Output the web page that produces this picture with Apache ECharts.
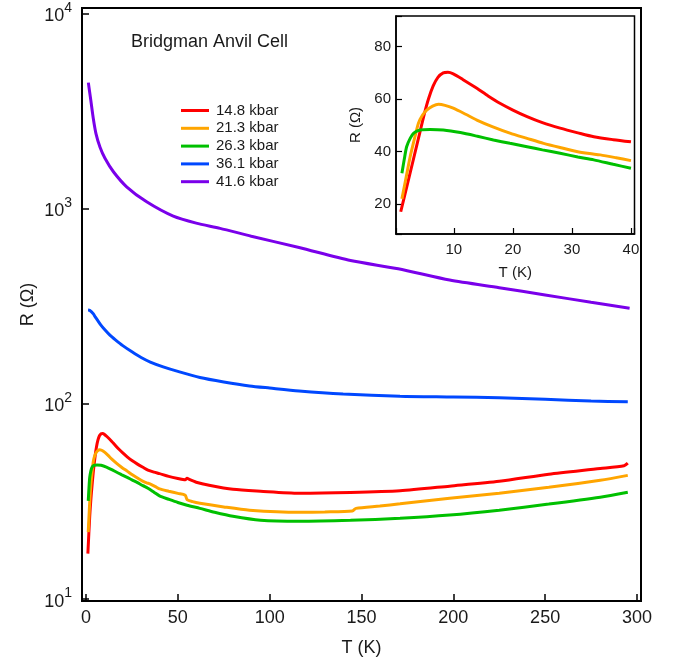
<!DOCTYPE html>
<html><head><meta charset="utf-8">
<script src="https://cdn.jsdelivr.net/npm/echarts@6/dist/echarts.min.js"></script>
<style>html,body{margin:0;padding:0;background:#fff}#c{width:673px;height:664px}</style>
</head><body><div id="c"></div>
<script>
// ---- data ----
const seriesNames = ['14.8 kbar', '21.3 kbar', '26.3 kbar', '36.1 kbar', '41.6 kbar'];
const titleText = 'Bridgman Anvil Cell';
const mainXTicks = [0, 50, 100, 150, 200, 250, 300];
const mainYTickExps = [1, 2, 3, 4];
const insetXTicks = [10, 20, 30, 40];
const insetYTicks = [20, 40, 60, 80];

// [T (K), R (Ohm)]
const r148 = [[1.0,17],[2.0,26.3],[3.0,35.6],[4.0,45],[5.0,54.3],[5.7,60],[6.5,65],[7.3,68.3],[8.2,70],[9.0,70.2],[9.9,69.6],[11.5,67.5],[13.9,64.1],[15.8,61.2],[17.8,58.4],[20,55.8],[22.4,53.3],[25,51],[28,48.9],[31,47.1],[33.7,45.6],[37,44.5],[40,43.7],[45,42.3],[50,41.3],[54,40.7],[55,41.4],[56,40.9],[60,39.5],[67,38.1],[80,36.3],[95,35.5],[116,34.7],[144,35],[171,35.7],[198,37.7],[225,39.9],[252,43.4],[280,46.4],[293,48],[295,49.5]];
const r213 = [[1.2,21.9],[1.9,30],[2.6,38],[3.3,44.6],[4.0,50.8],[4.7,53.9],[5.4,55.8],[6.4,57.3],[7.4,58],[8.5,57.6],[9.9,56.5],[12,54.2],[13.9,52],[16.5,49.5],[19.5,47],[22.4,45],[25.2,43.1],[28,41.5],[30.8,40],[33,39.2],[34.8,38.7],[37.5,37.6],[40,36.5],[45,35.5],[50,34.6],[54,33.9],[55,32.2],[58,31.4],[62,30.8],[75,29.5],[89,28.4],[116,27.7],[130,27.8],[145,28.1],[147,29.0],[160,29.8],[171,30.6],[198,32.7],[225,34.7],[252,37.2],[280,40.4],[295,42.8]];
const r263 = [[1.2,31.7],[1.6,37],[2.0,41.8],[2.6,45],[3.2,47],[4.3,48.2],[6,48.4],[8.2,48.2],[11.1,47.2],[14,45.8],[16.7,44.4],[19.5,43.1],[22.4,41.8],[25,40.6],[28,39.3],[31,37.9],[33.7,36.8],[37,35.1],[40,33.6],[45,32.3],[50,31.1],[55,30.1],[62,29],[70,27.7],[80,26.4],[95,25.2],[116,24.9],[144,25.2],[171,25.8],[198,26.8],[225,28.4],[252,30.5],[280,33.1],[295,35.1]];
const r361 = [[1.1,301],[2,300],[3,295],[4,288],[5,278],[6.5,265],[8,253],[10,240],[13,224],[16,212],[20,198],[25,184],[30,172],[35,163],[42,154],[50,146],[62,136],[75,129],[89,123],[100,120],[116,116],[140,112],[171,109],[200,108],[225,107],[250,105],[275,103],[295,102]];
const r416 = [[1.25,4410],[2.56,3600],[3.97,2880],[5.44,2410],[7.62,2055],[10.3,1805],[14.9,1540],[22.1,1290],[33,1080],[47.5,912],[60,840],[73,790],[90,720],[116,630],[144,540],[170,490],[198,429],[225,392],[250,360],[275,330],[296,308]];

const colors = ['#ff0000', '#ffa500', '#00c000', '#0048ff', '#7a00ea'];
const mainData = [r148, r213, r263, r361, r416];
const insetData = [r148, r213, r263];

// ---- chart ----
const FONT = 'Liberation Sans, Arial, Helvetica, sans-serif';
const TXT = '#1a1a1a';
const chart = echarts.init(document.getElementById('c'), null, {renderer: 'canvas'});

function near(v, arr) { return arr.some(t => Math.abs(t - v) < 1e-6); }

const series = [];
mainData.forEach((d, i) => series.push({
  name: seriesNames[i], type: 'line', xAxisIndex: 0, yAxisIndex: 0,
  data: d, showSymbol: false, symbol: 'none', smooth: 0.25,
  lineStyle: {color: colors[i], width: 3}, itemStyle: {color: colors[i]}, z: 3
}));
insetData.forEach((d, i) => series.push({
  name: seriesNames[i], type: 'line', xAxisIndex: 1, yAxisIndex: 1,
  data: d.filter(p => p[0] <= 41), showSymbol: false, symbol: 'none', smooth: 0.25,
  lineStyle: {color: colors[i], width: 3}, itemStyle: {color: colors[i]}, z: 10
}));

const option = {
  animation: false,
  backgroundColor: '#fff',
  textStyle: {fontFamily: FONT, color: TXT},
  title: {text: titleText, left: 131, top: 33, padding: 0,
    textStyle: {fontSize: 18, fontWeight: 'normal', color: TXT, fontFamily: FONT}},
  legend: {
    data: seriesNames, orient: 'vertical', left: 181, top: 103, padding: 0,
    icon: 'rect', itemWidth: 28, itemHeight: 3, itemGap: 2.8,
    textStyle: {fontSize: 15, color: TXT, fontFamily: FONT, lineHeight: 15, padding: [0, 0, 0, 2]},
    selectedMode: false
  },
  grid: [
    {left: 82, right: 32, top: 8, bottom: 63, show: true, borderColor: '#000', borderWidth: 2, backgroundColor: 'transparent', containLabel: false},
    {left: 396, right: 38.5, top: 16, bottom: 430, show: true, borderColor: '#000', borderWidth: 1.5, backgroundColor: '#fff', containLabel: false, z: 5}
  ],
  xAxis: [
    {type: 'value', gridIndex: 0, min: -2.2, max: 302.2,
     name: 'T (K)', nameLocation: 'middle', nameGap: 38, nameMoveOverlap: false,
     nameTextStyle: {fontSize: 18, color: TXT, fontFamily: FONT},
     axisLine: {show: true, onZero: false, lineStyle: {color: '#000', width: 2}},
     axisTick: {show: true, inside: true, length: 7, lineStyle: {color: '#000', width: 1.5}},
     axisLabel: {fontSize: 18, color: TXT, margin: 8, fontFamily: FONT, showMinLabel: true, showMaxLabel: true,
       formatter: v => near(v, mainXTicks) ? String(Math.round(v)) : ''},
     splitLine: {show: false}},
    {type: 'value', gridIndex: 1, min: 0.2, max: 40.6,
     name: 'T (K)', nameLocation: 'middle', nameGap: 31, nameMoveOverlap: false,
     nameTextStyle: {fontSize: 15, color: TXT, fontFamily: FONT},
     axisLine: {show: true, onZero: false, lineStyle: {color: '#000', width: 1.5}},
     axisTick: {show: true, inside: true, length: 6, lineStyle: {color: '#000', width: 1.2}},
     axisLabel: {fontSize: 15, color: TXT, margin: 8, fontFamily: FONT,
       formatter: v => near(v, insetXTicks) ? String(Math.round(v)) : ''},
     splitLine: {show: false}, z: 6}
  ],
  yAxis: [
    {type: 'log', logBase: 10, gridIndex: 0, min: 9.72, max: 10640,
     name: 'R (\u03a9)', nameLocation: 'middle', nameGap: 45, nameMoveOverlap: false,
     nameTextStyle: {fontSize: 18, color: TXT, fontFamily: FONT},
     axisLine: {show: true, onZero: false, lineStyle: {color: '#000', width: 2}},
     axisTick: {show: true, inside: true, length: 7, lineStyle: {color: '#000', width: 1.5}},
     minorTick: {show: false},
     axisLabel: {margin: 10, color: TXT, fontFamily: FONT,
       formatter: v => {
         const e = Math.log10(v), r = Math.round(e);
         if (Math.abs(e - r) > 1e-6 || !mainYTickExps.includes(r)) return '';
         return '{b|10}{s|' + r + '}';
       },
       rich: {
         b: {fontSize: 18, color: TXT, fontFamily: FONT, lineHeight: 24, verticalAlign: 'bottom'},
         s: {fontSize: 14, color: TXT, fontFamily: FONT, lineHeight: 14, verticalAlign: 'top'}
       }},
     splitLine: {show: false}},
    {type: 'value', gridIndex: 1, min: 8.5, max: 91.7,
     name: 'R (\u03a9)', nameLocation: 'middle', nameGap: 33, nameMoveOverlap: false,
     nameTextStyle: {fontSize: 15, color: TXT, fontFamily: FONT},
     axisLine: {show: true, onZero: false, lineStyle: {color: '#000', width: 1.5}},
     axisTick: {show: true, inside: true, length: 6, lineStyle: {color: '#000', width: 1.2}},
     axisLabel: {fontSize: 15, color: TXT, margin: 5, fontFamily: FONT,
       formatter: v => near(v, insetYTicks) ? String(Math.round(v)) : ''},
     splitLine: {show: false}, z: 6}
  ],
  series: series
};
chart.setOption(option);
</script></body></html>
